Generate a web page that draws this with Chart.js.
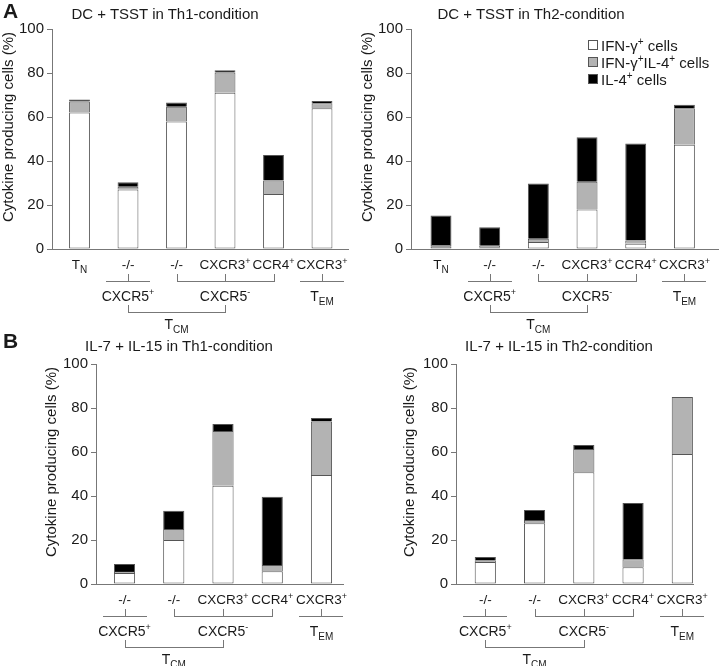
<!DOCTYPE html>
<html>
<head>
<meta charset="utf-8">
<script src="https://cdn.jsdelivr.net/npm/chart.js@4.4.1/dist/chart.umd.min.js"></script>
<style>
html, body { margin: 0; padding: 0; background: #fff; }
#wrap { position: relative; width: 720px; height: 666px; overflow: hidden; font-family: "Liberation Sans", Arial, sans-serif; color: #1a1a1a; }
canvas { position: absolute; }
.ttl { position: absolute; font-size: 15px; line-height: 18px; white-space: nowrap; transform: translateX(-50%); }
.lett { position: absolute; font-size: 21px; line-height: 1; font-weight: bold; }
</style>
</head>
<body>
<div id="wrap">
  <canvas id="a1" width="360" height="345" style="left:0;top:0"></canvas>
  <canvas id="a2" width="360" height="345" style="left:360px;top:0"></canvas>
  <canvas id="b1" width="360" height="333" style="left:0;top:333px"></canvas>
  <canvas id="b2" width="360" height="333" style="left:360px;top:333px"></canvas>
  <div class="lett" style="left:3px;top:0">A</div>
  <div class="lett" style="left:3px;top:330px">B</div>
  <div class="ttl" style="left:165px;top:5px">DC + TSST in Th1-condition</div>
  <div class="ttl" style="left:531px;top:5px">DC + TSST in Th2-condition</div>
  <div class="ttl" style="left:179px;top:337px">IL-7 + IL-15 in Th1-condition</div>
  <div class="ttl" style="left:559px;top:337px">IL-7 + IL-15 in Th2-condition</div>
</div>
<script>
const FONT = '"Liberation Sans", Arial, sans-serif';
const INK = '#1a1a1a';
const LINE = '#777';

const yTitle = 'Cytokine producing cells (%)';
const yTicks = [0, 20, 40, 60, 80, 100];
const seriesNames = ['IFN-γ^+ cells', 'IFN-γ^+IL-4^+ cells', 'IL-4^+ cells'];
const seriesColors = ['#ffffff', '#b3b3b3', '#000000'];

// x labels; ^ = superscript, _ = subscript
const catsA = ['T_N', '-/-', '-/-', 'CXCR3^+', 'CCR4^+', 'CXCR3^+'];
const catsB = ['-/-', '-/-', 'CXCR3^+', 'CCR4^+', 'CXCR3^+'];
// [first, last, label] brackets under the labels
const groupsA = [[1, 1, 'CXCR5^+'], [2, 4, 'CXCR5^-'], [5, 5, 'T_{EM}']];
const groupsB = [[0, 0, 'CXCR5^+'], [1, 3, 'CXCR5^-'], [4, 4, 'T_{EM}']];
const tcmLabel = 'T_{CM}'; // joins the first two brackets

// DC + TSST, Th1
const a1Ifn = [62, 27, 58, 71, 25, 64];
const a1Dbl = [5, 1.3, 6.7, 9.2, 6.1, 2.2];
const a1Il4 = [1, 2, 1.9, 1, 11.6, 1.1];
// DC + TSST, Th2
const a2Ifn = [1.2, 0.8, 3.2, 17.9, 2.4, 47.4];
const a2Dbl = [0.6, 0.7, 1.5, 12.7, 1.5, 16.6];
const a2Il4 = [13.4, 8.4, 25.1, 20.2, 44, 1.6];
// IL-7 + IL-15, Th1
const b1Ifn = [5, 20, 44.7, 5.8, 49.5];
const b1Dbl = [0.5, 5, 24.8, 2.8, 24.4];
const b1Il4 = [3.6, 8.3, 3.2, 31.1, 1.6];
// IL-7 + IL-15, Th2
const b2Ifn = [10, 27.6, 50.8, 7.6, 59.1];
const b2Dbl = [0.8, 1.5, 10.6, 3.6, 25.9];
const b2Il4 = [1.5, 4.5, 1.8, 25.6, 0];

function parseRich(s) {
  const parts = [];
  let buf = '', i = 0;
  while (i < s.length) {
    const c = s[i];
    if (c === '^' || c === '_') {
      if (buf) { parts.push({ t: buf, k: 'n' }); buf = ''; }
      let t;
      if (s[i + 1] === '{') {
        const j = s.indexOf('}', i);
        t = s.slice(i + 2, j);
        i = j + 1;
      } else {
        t = s[i + 1];
        i += 2;
      }
      parts.push({ t, k: c === '^' ? 'sup' : 'sub' });
    } else {
      buf += c;
      i++;
    }
  }
  if (buf) parts.push({ t: buf, k: 'n' });
  return parts;
}

function drawRich(ctx, s, x, y, align, size) {
  size = size || 15;
  const parts = parseRich(s);
  const fontFor = k => {
    const px = k === 'n' ? size : k === 'sub' ? Math.round(size * 0.72) : Math.round(size * 0.64);
    return px + 'px ' + FONT;
  };
  let w = 0;
  parts.forEach(p => { ctx.font = fontFor(p.k); p.w = ctx.measureText(p.t).width; w += p.w; });
  let cx = align === 'center' ? x - w / 2 : x;
  ctx.textAlign = 'left';
  ctx.textBaseline = 'alphabetic';
  parts.forEach(p => {
    ctx.font = fontFor(p.k);
    const dy = p.k === 'sup' ? -size * 0.4 : p.k === 'sub' ? size * 0.27 : 0;
    ctx.fillText(p.t, cx, y + dy);
    cx += p.w;
  });
}

function hline(ctx, x1, x2, y) {
  y = Math.round(y) + 0.5;
  ctx.beginPath(); ctx.moveTo(Math.round(x1), y); ctx.lineTo(Math.round(x2), y); ctx.stroke();
}
function vline(ctx, x, y1, y2) {
  x = Math.round(x) + 0.5;
  ctx.beginPath(); ctx.moveTo(x, Math.round(y1)); ctx.lineTo(x, Math.round(y2) + 1); ctx.stroke();
}

const annotPlugin = {
  id: 'annot',
  afterDraw(chart, args, opts) {
    const { ctx, chartArea: ca } = chart;
    const x = chart.scales.x;
    const y0 = ca.bottom;
    ctx.save();
    ctx.fillStyle = INK;
    ctx.strokeStyle = LINE;
    ctx.lineWidth = 1;

    ctx.save();
    ctx.translate(opts.yTitleX, (ca.top + ca.bottom) / 2 - 12);
    ctx.rotate(-Math.PI / 2);
    ctx.font = '15px ' + FONT;
    ctx.textAlign = 'center';
    ctx.textBaseline = 'middle';
    ctx.fillText(yTitle, 0, 0);
    ctx.restore();

    opts.cats.forEach((c, i) => drawRich(ctx, c, x.getPixelForValue(i), y0 + 20, 'center', 13.5));

    const mids = opts.groups.map(([a, b, label]) => {
      const xa = x.getPixelForValue(a), xb = x.getPixelForValue(b);
      const xm = x.getPixelForValue((a + b) / 2);
      if (a === b) {
        hline(ctx, xa - 22, xa + 22, y0 + 32);
      } else {
        hline(ctx, xa, xb, y0 + 32);
        vline(ctx, xa, y0 + 25, y0 + 32);
        vline(ctx, xb, y0 + 25, y0 + 32);
      }
      vline(ctx, xm, y0 + 25, y0 + 32);
      drawRich(ctx, label, xm, y0 + 52, 'center', 14);
      return xm;
    });

    hline(ctx, mids[0], mids[1], y0 + 63);
    vline(ctx, mids[0], y0 + 56, y0 + 63);
    vline(ctx, mids[1], y0 + 56, y0 + 63);
    drawRich(ctx, tcmLabel, (mids[0] + mids[1]) / 2, y0 + 80, 'center', 14);

    if (opts.legend) {
      chart.data.datasets.forEach((ds, i) => {
        const lx = Math.round(ca.right - 130), ly = Math.round(ca.top + 16 + i * 17);
        ctx.fillStyle = ds.backgroundColor;
        ctx.fillRect(lx, ly - 5, 10, 10);
        ctx.strokeStyle = '#555';
        ctx.strokeRect(lx + 0.5, ly - 4.5, 9, 9);
        ctx.fillStyle = INK;
        drawRich(ctx, ds.label, lx + 13, ly + 5.5, 'left', 15);
      });
    }
    ctx.restore();
  }
};

function makeChart(id, cats, groups, vals, box, showLegend) {
  const canvas = document.getElementById(id);
  const datasets = vals.map((arr, k) => ({
    label: seriesNames[k],
    data: arr.map((v, i) => ({ x: i, y: v })),
    backgroundColor: seriesColors[k],
    borderColor: '#555',
    borderWidth: 1,
    borderSkipped: k === 0 ? false : 'start',
    barPercentage: 0.43,
    categoryPercentage: 1
  }));
  return new Chart(canvas, {
    type: 'bar',
    data: { datasets },
    options: {
      responsive: false,
      animation: false,
      layout: { padding: { left: 0, top: box.t, right: canvas.width - box.r, bottom: 0 } },
      plugins: {
        legend: { display: false },
        tooltip: { enabled: false },
        annot: { cats, groups, legend: showLegend, yTitleX: box.yTitleX }
      },
      scales: {
        x: {
          type: 'linear', stacked: true, min: box.xMin, max: box.xMax, offset: false,
          ticks: { display: false },
          grid: { display: false, offset: false },
          border: { display: true, color: LINE, width: 1 },
          afterFit: s => { s.height = canvas.height - box.b; s.paddingLeft = 0; s.paddingRight = 0; }
        },
        y: {
          stacked: true, min: 0, max: 100,
          ticks: { color: INK, font: { family: FONT, size: 15 }, padding: 3 },
          afterBuildTicks: s => { s.ticks = yTicks.map(v => ({ value: v })); },
          grid: { drawOnChartArea: false, color: LINE, tickLength: 5 },
          border: { color: LINE, width: 1 },
          afterFit: s => { s.width = box.l; s.paddingTop = 0; s.paddingBottom = 0; }
        }
      }
    },
    plugins: [annotPlugin]
  });
}

makeChart('a1', catsA, groupsA, [a1Ifn, a1Dbl, a1Il4],
  { l: 52, r: 348, t: 29, b: 249, xMin: -0.567, xMax: 5.536, yTitleX: 9 }, false);
makeChart('a2', catsA, groupsA, [a2Ifn, a2Dbl, a2Il4],
  { l: 51, r: 358, t: 29, b: 249, xMin: -0.616, xMax: 5.69, yTitleX: 8 }, true);
makeChart('b1', catsB, groupsB, [b1Ifn, b1Dbl, b1Il4],
  { l: 96, r: 343, t: 31, b: 251, xMin: -0.579, xMax: 4.437, yTitleX: 52 }, false);
makeChart('b2', catsB, groupsB, [b2Ifn, b2Dbl, b2Il4],
  { l: 96, r: 333, t: 31, b: 251, xMin: -0.595, xMax: 4.217, yTitleX: 50 }, false);
</script>
</body>
</html>
